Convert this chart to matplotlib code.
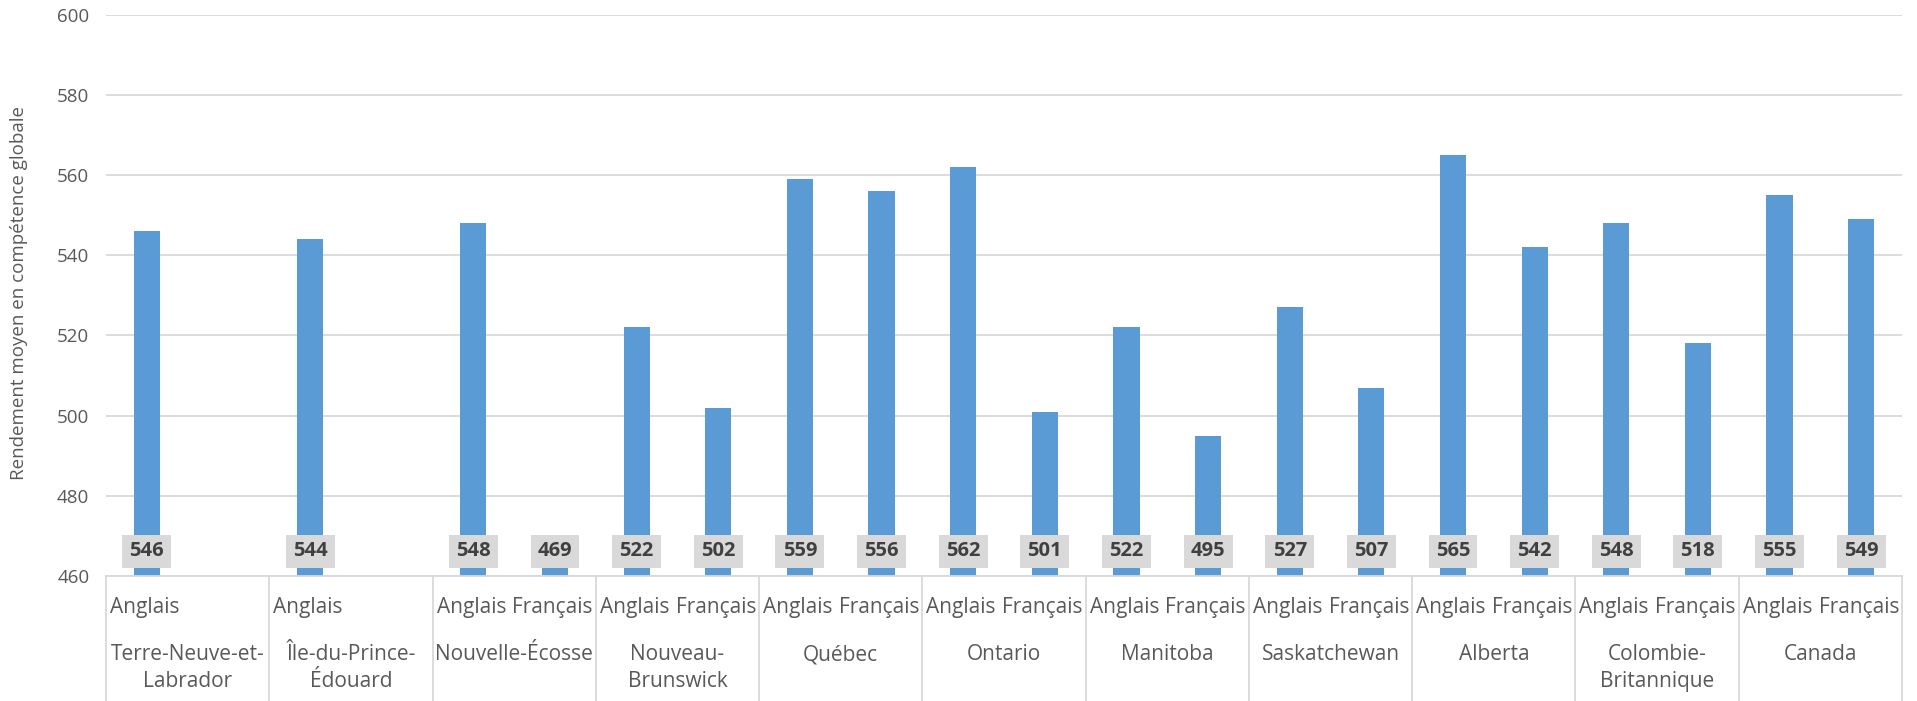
import numpy as np
import matplotlib.pyplot as plt
from matplotlib.patches import Rectangle

plt.rcParams['font.family'] = ['Open Sans', 'DejaVu Sans']

# --- DATA ---
provinces = ["Terre-Neuve-et-\nLabrador", "Île-du-Prince-\nÉdouard", "Nouvelle-Écosse",
             "Nouveau-\nBrunswick", "Québec", "Ontario", "Manitoba", "Saskatchewan",
             "Alberta", "Colombie-\nBritannique", "Canada"]
anglais  = [546, 544, 548, 522, 559, 562, 522, 527, 565, 548, 555]
francais = [np.nan, np.nan, 469, 502, 556, 501, 495, 507, 542, 518, 549]
sub_labels = ["Anglais", "Français"]
ylabel = "Rendement moyen en compétence globale"

# --- STYLE ---
W, H, DPI = 1917, 701, 100
bar_color  = "#5B9BD5"
grid_color = "#D9D9D9"
text_color = "#595959"
box_color  = "#D9D9D9"
lbl_color  = "#404040"

ax_left, ax_right, ax_top, ax_bot = 106, 1902, 14.7, 576   # pixels

fig = plt.figure(figsize=(W / DPI, H / DPI), dpi=DPI)
ax = fig.add_axes([ax_left / W, (H - ax_bot) / H,
                   (ax_right - ax_left) / W, (ax_bot - ax_top) / H])

n = len(provinces)
x_ang = np.arange(n) * 2
x_fra = x_ang + 1

ax.bar(x_ang, anglais, width=0.32, color=bar_color, zorder=2)
ax.bar(x_fra, francais, width=0.32, color=bar_color, zorder=2)

ax.set_xlim(-0.5, 2 * n - 0.5)
ax.set_ylim(460, 600)
ax.set_yticks(np.arange(460, 601, 20))
ax.yaxis.grid(True, color=grid_color, lw=1.3, zorder=0)
ax.set_axisbelow(True)
ax.tick_params(axis='y', length=0, pad=12, labelsize=13.5, labelcolor=text_color)
ax.set_xticks([])
for s in ["left", "right", "top"]:
    ax.spines[s].set_visible(False)
ax.spines["bottom"].set_color(grid_color)
ax.spines["bottom"].set_linewidth(1.3)

trans = ax.get_xaxis_transform()
ax_h = ax_bot - ax_top
px = 72 / DPI  # pixels -> points

# value labels in grey boxes
box_w = 0.6
box_h = 33 / ax_h
box_y0 = 8 / ax_h
for xs, vals in ((x_ang, anglais), (x_fra, francais)):
    for xv, v in zip(xs, vals):
        if np.isnan(v):
            continue
        ax.add_patch(Rectangle((xv - box_w / 2, box_y0), box_w, box_h,
                               transform=trans, facecolor=box_color,
                               edgecolor="none", zorder=3, clip_on=False))
        ax.text(xv, box_y0 + box_h / 2, f"{v:.0f}", transform=trans,
                ha="center", va="center", fontsize=14.5, fontweight="bold",
                color=lbl_color, zorder=4)

# category axis: separators, sub labels, province names
sep_bottom = -(H - ax_bot + 5) / ax_h
for g in range(n + 1):
    xb = 2 * g - 0.5
    ax.plot([xb, xb], [0, sep_bottom], transform=trans, color=grid_color,
            lw=1.3, clip_on=False)

for g, name in enumerate(provinces):
    left = 2 * g - 0.5
    right = 2 * g + 1.5
    ax.annotate(sub_labels[0], xy=(left, 0), xycoords=trans,
                xytext=(4 * px, -32 * px), textcoords="offset points",
                ha="left", va="center", fontsize=15, color=text_color)
    if not np.isnan(francais[g]):
        ax.annotate(sub_labels[1], xy=(right, 0), xycoords=trans,
                    xytext=(-3 * px, -32 * px), textcoords="offset points",
                    ha="right", va="center", fontsize=15, color=text_color)
    ax.annotate(name, xy=(2 * g + 0.5, 0), xycoords=trans,
                xytext=(0, -68 * px), textcoords="offset points",
                ha="center", va="top", fontsize=15, color=text_color,
                linespacing=1.35, multialignment="center")

fig.text(19 / W, 1 - 293 / H, ylabel, rotation=90, ha="center", va="center",
         fontsize=13.5, color=text_color)

fig.savefig("out.png", dpi=DPI)
